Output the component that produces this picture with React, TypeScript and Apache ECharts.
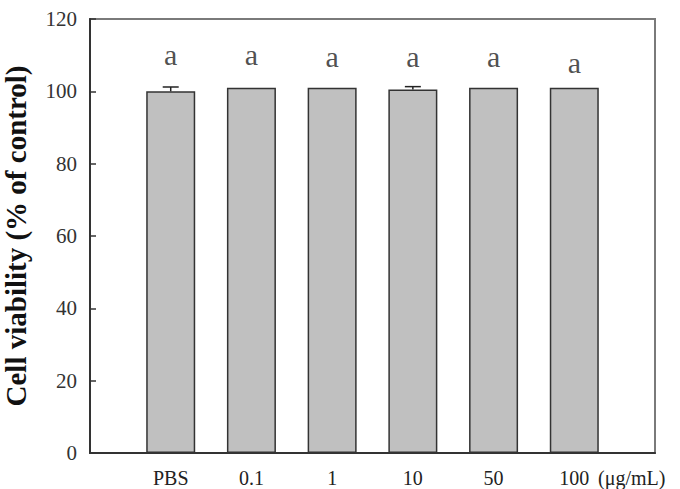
import React, { useEffect, useRef } from "react";
import * as echarts from "echarts";

const categories = ["", "PBS", "0.1", "1", "10", "50", "100", ""];
const viability = [null, 100.0, 101.0, 101.0, 100.5, 101.0, 101.0, null];
const errors = [0, 1.2, 0, 0, 0.8, 0, 0, 0];
const letters = ["", "a", "a", "a", "a", "a", "a", ""];
const letterHeights = [null, 110.2, 110.2, 109.5, 109.5, 109.5, 108.1, null];
const yTicks = { min: 0, max: 120, interval: 20 };
const unitLabel = "(μg/mL)";
const yTitle = "Cell viability (% of control)";

const SERIF = "'Liberation Serif', 'Times New Roman', serif";

export default function App() {
  const ref = useRef<HTMLDivElement>(null);
  useEffect(() => {
    if (!ref.current) return;
    const chart = echarts.init(ref.current, undefined, { renderer: "svg" });
    const errData = categories
      .map((_, i) => (viability[i] == null || !errors[i] ? null : [i, viability[i] as number, errors[i]]))
      .filter((d) => d !== null);
    chart.setOption({
      animation: false,
      backgroundColor: "#fff",
      grid: {
        left: 90,
        right: 25,
        top: 19,
        bottom: 36,
        show: true,
        borderColor: "#7a7a7a",
        borderWidth: 2,
        containLabel: false,
        outerBoundsMode: "none",
      },
      xAxis: {
        type: "category",
        data: categories,
        boundaryGap: false,
        axisLine: { show: true, lineStyle: { color: "#333", width: 2 } },
        axisTick: { show: false },
        axisLabel: {
          interval: 0,
          margin: 15,
          color: "#222",
          fontFamily: SERIF,
          fontSize: 20,
          lineHeight: 20,
        },
        splitLine: { show: false },
      },
      yAxis: {
        type: "value",
        min: yTicks.min,
        max: yTicks.max,
        interval: yTicks.interval,
        name: yTitle,
        nameLocation: "middle",
        nameGap: 60,
        nameTextStyle: {
          fontFamily: SERIF,
          fontWeight: "bold",
          fontSize: 29,
          color: "#111",
        },
        axisLine: { show: true, lineStyle: { color: "#333", width: 2 } },
        axisTick: { show: true, inside: true, length: 6, lineStyle: { color: "#333", width: 1.5 } },
        axisLabel: { margin: 13, color: "#333", fontFamily: SERIF, fontSize: 21 },
        splitLine: { show: false },
      },
      series: [
        {
          type: "bar",
          data: viability,
          barWidth: 49,
          itemStyle: { color: "#c0c0c0", borderColor: "#333", borderWidth: 1.5 },
          z: 2,
        },
        {
          type: "custom",
          data: errData,
          z: 3,
          renderItem: (params: any, api: any) => {
            const x = api.value(0);
            const v = api.value(1);
            const e = api.value(2);
            const top = api.coord([x, v]);
            const hi = api.coord([x, v + e]);
            const half = 8;
            return {
              type: "group",
              children: [
                { type: "line", shape: { x1: top[0], y1: top[1], x2: hi[0], y2: hi[1] }, style: { stroke: "#222", lineWidth: 1.5 } },
                { type: "line", shape: { x1: hi[0] - half, y1: hi[1], x2: hi[0] + half, y2: hi[1] }, style: { stroke: "#222", lineWidth: 1.5 } },
              ],
            };
          },
        },
        {
          type: "scatter",
          data: letterHeights,
          symbolSize: 0,
          z: 4,
          label: {
            show: true,
            position: "inside",
            formatter: (p: any) => letters[p.dataIndex],
            fontFamily: SERIF,
            fontSize: 30,
            color: "#222",
          },
        },
      ],
      graphic: [
        {
          type: "text",
          x: 598,
          y: 478,
          style: {
            text: unitLabel,
            fontFamily: SERIF,
            fontSize: 20,
            lineHeight: 20,
            verticalAlign: "middle",
            fill: "#222",
          },
        },
      ],
    });
    return () => chart.dispose();
  }, []);
  return (
    <div
      ref={ref}
      style={{ position: "absolute", left: 0, top: 0, width: 680, height: 489 }}
    />
  );
}
